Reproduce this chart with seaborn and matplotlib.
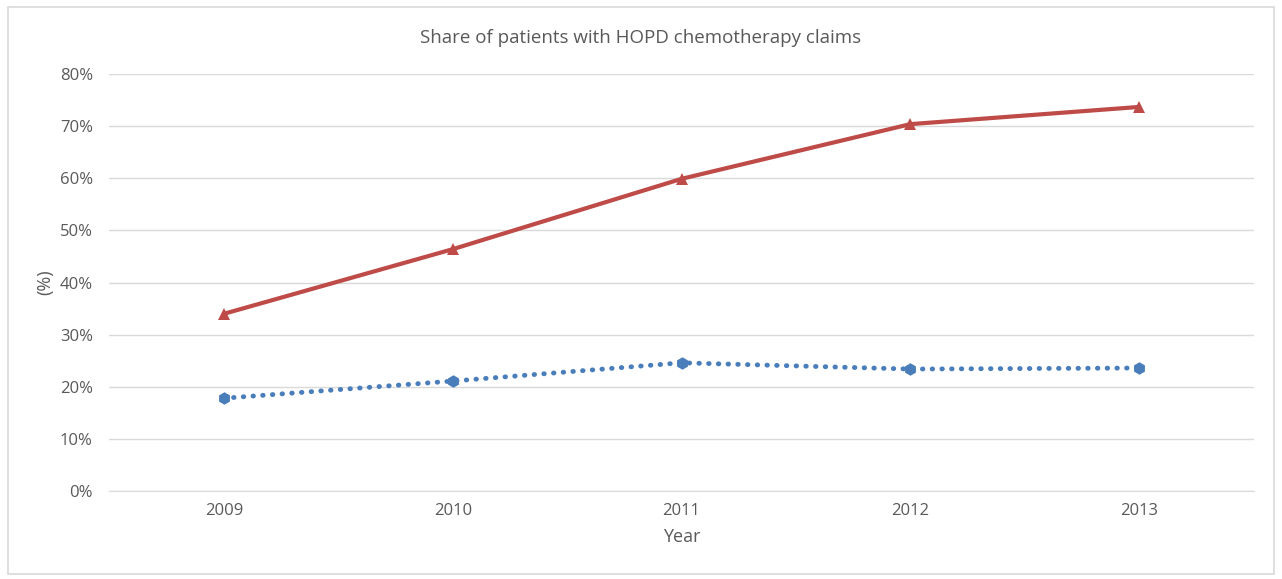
import matplotlib.pyplot as plt
import seaborn as sns
import numpy as np
import pandas as pd
from matplotlib.patches import Rectangle
from matplotlib.ticker import PercentFormatter

# Values
years = ['2009', '2010', '2011', '2012', '2013']
red_share = [34.0, 46.4, 59.9, 70.4, 73.7]
blue_share = [17.8, 21.1, 24.6, 23.4, 23.6]

sns.set_style('white')
plt.rcParams['font.family'] = ['Open Sans', 'DejaVu Sans']
text_color = '#595959'

df_red = pd.DataFrame({'Year': years, 'Share': red_share})
df_blue = pd.DataFrame({'Year': years, 'Share': blue_share})

fig = plt.figure(figsize=(12.82, 5.79), dpi=100)
ax = fig.add_axes([0.0854, 0.152, 0.8924, 0.72])

sns.lineplot(data=df_red, x='Year', y='Share', ax=ax, color='#BE4B48',
             linewidth=3, marker='^', markersize=9, markeredgewidth=0,
             sort=False)
sns.lineplot(data=df_blue, x='Year', y='Share', ax=ax, color='#4A7EBB',
             linewidth=3.5, linestyle=(0, (0.1, 1.9)), dash_capstyle='round',
             marker='h', markersize=9, markeredgewidth=0, sort=False)

ax.set_xlim(-0.5, len(years) - 0.5)
ax.set_ylim(0, 80)
ax.set_yticks(np.arange(0, 81, 10))
ax.yaxis.set_major_formatter(PercentFormatter(decimals=0))
ax.grid(axis='y', color='#D9D9D9', linewidth=1)
ax.set_axisbelow(True)
for side in ['top', 'right', 'left']:
    ax.spines[side].set_visible(False)
ax.spines['bottom'].set_color('#D9D9D9')
ax.tick_params(axis='both', length=0, labelsize=12, colors=text_color)
ax.tick_params(axis='y', pad=12)
ax.tick_params(axis='x', pad=9)

# title is centred on the whole figure, not the plot area
fig.text(0.5, 0.934, 'Share of patients with HOPD chemotherapy claims',
         fontsize=13.5, color=text_color, ha='center', va='center')
ax.set_xlabel('Year', fontsize=13, color=text_color, labelpad=6)
ax.set_ylabel('(%)', fontsize=13, color=text_color, labelpad=4)

# light frame round the whole chart, as in the reference
fig.patches.append(Rectangle((0.006, 0.008), 0.988, 0.98, transform=fig.transFigure,
                             fill=False, edgecolor='#D9D9D9', linewidth=1.2))

fig.savefig('out.png', dpi=100)
